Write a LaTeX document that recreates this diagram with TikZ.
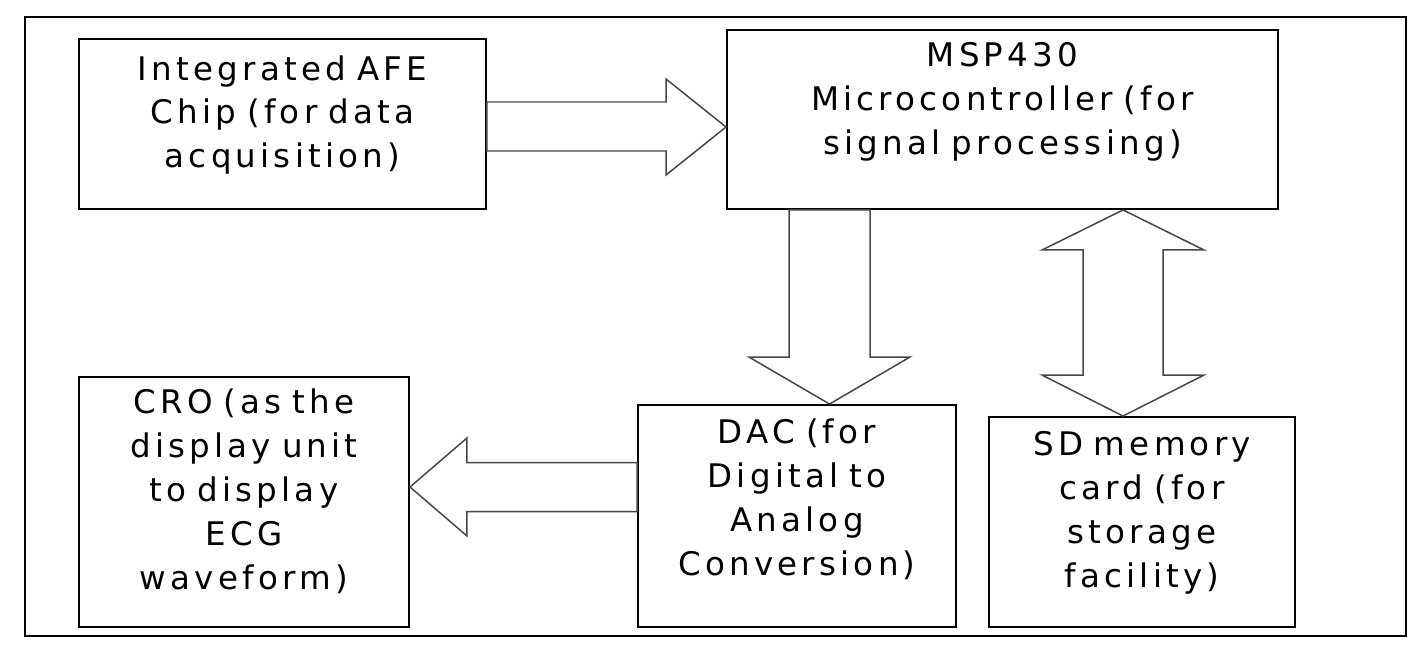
\documentclass[tikz,border=0pt]{standalone}
\usepackage{fontspec}
\setmainfont{DejaVu Sans}[LetterSpace=13, WordSpace=1.4]
\usepackage{tikz}
\usetikzlibrary{calc}
\definecolor{arrowgray}{RGB}{70, 70, 70}

\begin{document}
\begin{tikzpicture}[x=0.2mm,y=-0.2mm]
	\tikzstyle{box} = [draw, line width=1.1pt, inner sep=0pt, align=center, font=\fontsize{18.5}{25}\selectfont]
	\tikzstyle{blockarrow} = [draw=arrowgray, line width=0.85pt, line join=miter, fill=white]

	\useasboundingbox (0,0) rectangle (1409,646);
	\draw[line width=1.1pt] (25,17) rectangle (1406,636);

	\node[box, text width=8.14cm, text height=0.82cm, text depth=2.58cm] (afe) at (282.5,124) {Integrated AFE\\ Chip (for data\\ acquisition)};
	\node[box, text width=11.02cm, text height=0.73cm, text depth=2.85cm] (msp) at (1002.5,119.5) {MSP430\\ Microcontroller (for\\ signal processing)};
	\node[box, text width=6.60cm, text height=0.73cm, text depth=4.27cm] (cro) at (244,502) {CRO (as the\\ display unit\\ to display\\ ECG\\ waveform)};
	\node[box, text width=6.36cm, text height=0.77cm, text depth=3.67cm] (dac) at (797,516) {DAC (for\\ Digital to\\ Analog\\ Conversion)};
	\node[box, text width=6.12cm, text height=0.77cm, text depth=3.43cm] (sd) at (1142,522) {SD memory\\ card (for\\ storage\\ facility)};

	% AFE -> MSP430
	\coordinate (t1) at ($(msp.west |- afe.east)+(0,3)$);
	\draw[blockarrow] ($(afe.east)+(0,-22)$) -- ($(t1)+(-60,-25)$) -- ($(t1)+(-60,-48)$) -- (t1)
		-- ($(t1)+(-60,48)$) -- ($(t1)+(-60,24)$) -- ($(afe.east)+(0,27)$) -- cycle;

	% MSP430 -> DAC
	\coordinate (t2) at ($(dac.north)+(32.5,0)$);
	\draw[blockarrow] ($(msp.south -| t2)+(-40.5,0)$) -- ($(t2)+(-40.5,-47)$) -- ($(t2)+(-80.5,-47)$) -- (t2)
		-- ($(t2)+(80.5,-47)$) -- ($(t2)+(40.5,-47)$) -- ($(msp.south -| t2)+(40.5,0)$) -- cycle;

	% MSP430 <-> SD card
	\coordinate (t3b) at ($(sd.north)+(-19,0)$);
	\coordinate (t3a) at (msp.south -| t3b);
	\draw[blockarrow] (t3a) -- ($(t3a)+(81,40)$) -- ($(t3a)+(40,40)$) -- ($(t3b)+(40,-41)$) -- ($(t3b)+(81,-41)$)
		-- (t3b) -- ($(t3b)+(-81,-41)$) -- ($(t3b)+(-40,-41)$) -- ($(t3a)+(-40,40)$) -- ($(t3a)+(-81,40)$) -- cycle;

	% DAC -> CRO
	\coordinate (t4) at ($(cro.east)+(0,-15)$);
	\draw[blockarrow] ($(dac.west |- t4)+(0,-24.5)$) -- ($(t4)+(57,-24.5)$) -- ($(t4)+(57,-49)$) -- (t4)
		-- ($(t4)+(57,49)$) -- ($(t4)+(57,24.5)$) -- ($(dac.west |- t4)+(0,24.5)$) -- cycle;
\end{tikzpicture}
\end{document}
